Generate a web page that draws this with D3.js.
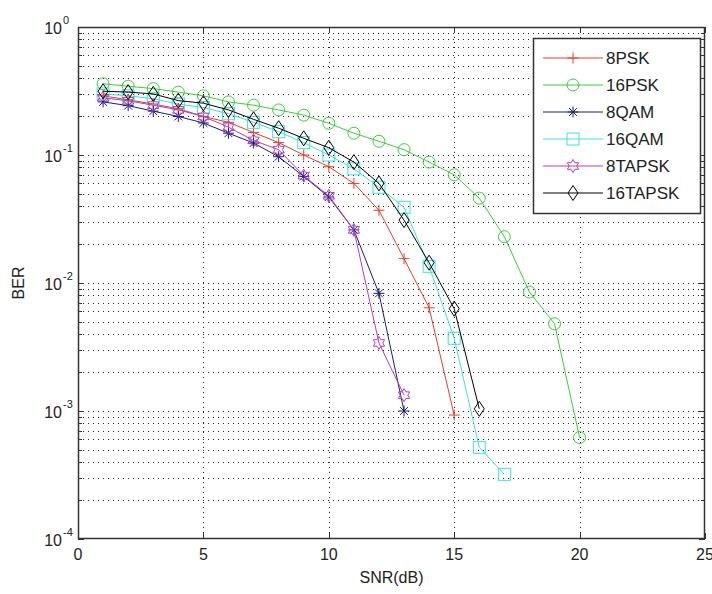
<!DOCTYPE html>
<html><head><meta charset="utf-8">
<script src="https://cdn.jsdelivr.net/npm/d3@7"></script>
<style>
html,body{margin:0;padding:0;background:#fff;}
text{font-family:"Liberation Sans",Arial,sans-serif;fill:#222;}
</style></head>
<body>
<svg id="chart" width="712" height="594"></svg>
<script>
const snr8PSK = [1,2,3,4,5,6,7,8,9,10,11,12,13,14,15];
const ber8PSK = [0.29,0.27,0.25,0.23,0.20,0.18,0.15,0.125,0.10,0.081,0.06,0.037,0.0155,0.0064,0.00093];
const snr16PSK = [1,2,3,4,5,6,7,8,9,10,11,12,13,14,15,16,17,18,19,20];
const ber16PSK = [0.36,0.345,0.33,0.31,0.29,0.26,0.245,0.225,0.205,0.177,0.148,0.128,0.11,0.088,0.07,0.046,0.023,0.0085,0.0048,0.00062];
const snr8QAM = [1,2,3,4,5,6,7,8,9,10,11,12,13];
const ber8QAM = [0.26,0.243,0.22,0.2,0.178,0.148,0.124,0.097,0.068,0.047,0.026,0.0083,0.001];
const snr16QAM = [1,2,3,4,5,6,7,8,9,10,11,12,13,14,15,16,17];
const ber16QAM = [0.3,0.29,0.275,0.25,0.235,0.21,0.18,0.152,0.125,0.1,0.078,0.056,0.039,0.0135,0.0037,0.00052,0.00032];
const snr8TAPSK = [1,2,3,4,5,6,7,8,9,10,11,12,13];
const ber8TAPSK = [0.28,0.265,0.245,0.225,0.2,0.165,0.13,0.11,0.069,0.048,0.026,0.0034,0.00133];
const snr16TAPSK = [1,2,3,4,5,6,7,8,9,10,11,12,13,14,15,16];
const ber16TAPSK = [0.315,0.31,0.3,0.266,0.254,0.225,0.19,0.162,0.135,0.114,0.088,0.06,0.031,0.0144,0.0063,0.00104];
const seriesNames = ["8PSK","16PSK","8QAM","16QAM","8TAPSK","16TAPSK"];
const xTicks = [0,5,10,15,20,25];
const yTickExps = [0,-1,-2,-3,-4];

const seriesX = [snr8PSK,snr16PSK,snr8QAM,snr16QAM,snr8TAPSK,snr16TAPSK];
const seriesY = [ber8PSK,ber16PSK,ber8QAM,ber16QAM,ber8TAPSK,ber16TAPSK];
const colors = ["#e0402a","#3ccc3c","#1c1c7a","#3ee0e0","#b63cc0","#000000"];
const markers = ["plus","circle","star","square","hexagram","diamond"];

const L=78, R=705, T=27, B=539;
const svg = d3.select("#chart");
const x = d3.scaleLinear().domain([0,25]).range([L,R]);
const y = d3.scaleLog().domain([1e-4,1]).range([B,T]);

// grid
const grid = svg.append("g").attr("stroke","#222").attr("stroke-width",1).attr("stroke-dasharray","1,4");
xTicks.slice(1,-1).forEach(v=>{
  grid.append("line").attr("x1",Math.round(x(v))+0.5).attr("x2",Math.round(x(v))+0.5).attr("y1",T).attr("y2",B);
});
const yAll = [];
for(let e=-4;e<0;e++){ for(let m=1;m<10;m++){ yAll.push(m*Math.pow(10,e)); } }
yAll.push(1);
yAll.forEach(v=>{
  if(v===1e-4||v===1) return;
  grid.append("line").attr("x1",L).attr("x2",R).attr("y1",Math.round(y(v))+0.5).attr("y2",Math.round(y(v))+0.5);
});

// ticks
const tk = svg.append("g").attr("stroke","#333").attr("stroke-width",1);
xTicks.forEach(v=>{
  const px = Math.round(x(v))+0.5;
  tk.append("line").attr("x1",px).attr("x2",px).attr("y1",B).attr("y2",B-6);
  tk.append("line").attr("x1",px).attr("x2",px).attr("y1",T).attr("y2",T+6);
});
yAll.forEach(v=>{
  const py = Math.round(y(v))+0.5;
  const major = Math.abs(Math.log10(v)-Math.round(Math.log10(v)))<1e-9;
  const len = major?6:4;
  tk.append("line").attr("x1",L).attr("x2",L+len).attr("y1",py).attr("y2",py);
  tk.append("line").attr("x1",R).attr("x2",R-len).attr("y1",py).attr("y2",py);
});

// frame
svg.append("rect").attr("x",L+0.5).attr("y",T+0.5).attr("width",R-L-1).attr("height",B-T-1)
  .attr("fill","none").attr("stroke","#333").attr("stroke-width",1.5);

// tick labels
xTicks.forEach(v=>{
  svg.append("text").attr("x",x(v)).attr("y",B+21).attr("text-anchor","middle")
    .attr("font-size",16).text(v);
});
yTickExps.forEach(e=>{
  const t = svg.append("text").attr("x",L-16).attr("y",y(Math.pow(10,e))+7).attr("text-anchor","end").attr("font-size",16);
  t.text("10");
  svg.append("text").attr("x",L-15).attr("y",y(Math.pow(10,e))-3).attr("font-size",11).text(String(e));
});
svg.append("text").attr("x",(L+R)/2).attr("y",B+44).attr("text-anchor","middle").attr("font-size",16).text("SNR(dB)");
svg.append("text").attr("transform",`translate(24,${(T+B)/2}) rotate(-90)`).attr("text-anchor","middle").attr("font-size",16).text("BER");

// marker drawing
function drawMarker(g, type, cx, cy, color){
  const s = 5.5;
  if(type==="plus"){
    g.append("path").attr("d",`M${cx-s},${cy}H${cx+s}M${cx},${cy-s}V${cy+s}`).attr("stroke",color).attr("fill","none");
  } else if(type==="circle"){
    g.append("circle").attr("cx",cx).attr("cy",cy).attr("r",6).attr("stroke",color).attr("fill","none");
  } else if(type==="star"){
    const a = s*0.72;
    g.append("path").attr("d",`M${cx-s},${cy}H${cx+s}M${cx},${cy-s}V${cy+s}M${cx-a},${cy-a}L${cx+a},${cy+a}M${cx-a},${cy+a}L${cx+a},${cy-a}`).attr("stroke",color).attr("fill","none");
  } else if(type==="square"){
    g.append("rect").attr("x",cx-6).attr("y",cy-6).attr("width",12).attr("height",12).attr("stroke",color).attr("fill","none");
  } else if(type==="hexagram"){
    const r1=6.5, r2=3.8; let pts=[];
    for(let i=0;i<12;i++){ const ang=-Math.PI/2+i*Math.PI/6; const r=i%2===0?r1:r2; pts.push([cx+r*Math.cos(ang),cy+r*Math.sin(ang)]); }
    g.append("path").attr("d","M"+pts.map(p=>p.join(",")).join("L")+"Z").attr("stroke",color).attr("fill","none");
  } else if(type==="diamond"){
    g.append("path").attr("d",`M${cx},${cy-7.5}L${cx+5},${cy}L${cx},${cy+7.5}L${cx-5},${cy}Z`).attr("stroke",color).attr("fill","none");
  }
}

const line = d3.line().x(d=>x(d[0])).y(d=>y(d[1]));
seriesNames.forEach((name,i)=>{
  const data = seriesX[i].map((v,j)=>[v,seriesY[i][j]]);
  const g = svg.append("g").attr("stroke-width",1);
  g.append("path").datum(data).attr("d",line).attr("fill","none").attr("stroke",colors[i]).attr("stroke-width",1);
  data.forEach(d=>drawMarker(g,markers[i],x(d[0]),y(d[1]),colors[i]));
});

// legend
const lg = svg.append("g");
const lx=533, ly=38, lw=167, lh=175;
lg.append("rect").attr("x",lx+0.5).attr("y",ly+0.5).attr("width",lw).attr("height",lh).attr("fill","#fff").attr("stroke","#333").attr("stroke-width",1.5);
seriesNames.forEach((name,i)=>{
  const yy = ly+20+i*27;
  lg.append("line").attr("x1",lx+10).attr("x2",lx+70).attr("y1",yy).attr("y2",yy).attr("stroke",colors[i]).attr("stroke-width",1);
  drawMarker(lg,markers[i],lx+40,yy,colors[i]);
  lg.append("text").attr("x",lx+73).attr("y",yy+6).attr("font-size",17).text(name);
});
</script>
</body></html>
